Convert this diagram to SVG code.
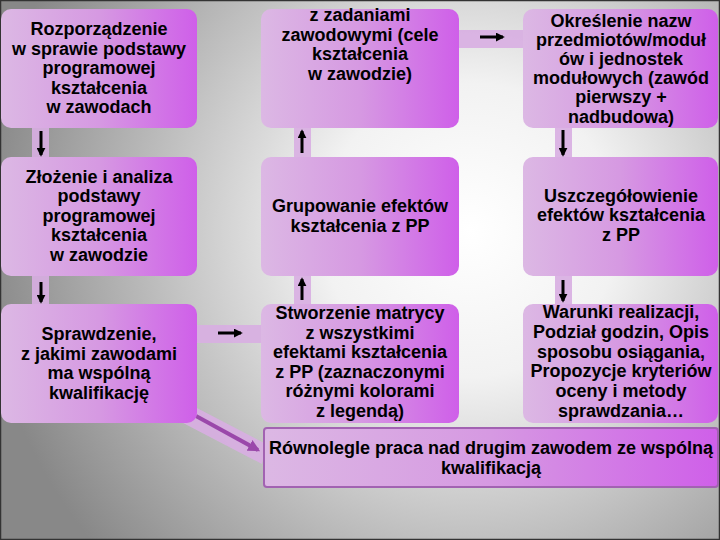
<svg xmlns="http://www.w3.org/2000/svg" width="720" height="540" viewBox="0 0 720 540">
<defs>
<radialGradient id="bg" cx="470" cy="230" r="490" gradientUnits="userSpaceOnUse">
<stop offset="0" stop-color="#ffffff"/>
<stop offset="0.3" stop-color="#f2f2f2"/>
<stop offset="1" stop-color="#888888"/>
</radialGradient>
<linearGradient id="box" x1="0" y1="0" x2="1" y2="0">
<stop offset="0" stop-color="#dcb8e4"/>
<stop offset="0.5" stop-color="#d699e2"/>
<stop offset="1" stop-color="#cf5fe9"/>
</linearGradient>
<marker id="ah" viewBox="0 0 10 10" refX="8" refY="5" markerWidth="3" markerHeight="3" orient="auto" markerUnits="strokeWidth">
<path d="M0,0 L10,5 L0,10 z" fill="#000"/>
</marker>
<marker id="ahp" viewBox="0 0 10 10" refX="8" refY="5" markerWidth="3" markerHeight="3" orient="auto" markerUnits="strokeWidth">
<path d="M0,0 L10,5 L0,10 z" fill="#9a48aa"/>
</marker>
</defs>
<style>
.box{fill:url(#box);}
.wide{fill:url(#box);stroke:#a262b2;stroke-width:2;}
.band{fill:#d8aee2;opacity:0.9;}
.arr{stroke:#000;stroke-width:3;fill:none;marker-end:url(#ah);}
text{font-family:"Liberation Sans",Arial,sans-serif;font-weight:bold;font-size:18px;fill:#000;text-anchor:middle;}
</style>
<rect x="0" y="0" width="720" height="540" fill="url(#bg)"/>
<rect x="0.5" y="0.5" width="719" height="539" fill="none" stroke="#333" stroke-width="1.5"/>

<g id="connectors">
<rect class="band" x="32" y="120" width="17" height="190"/>
<rect class="band" x="294" y="120" width="17" height="190"/>
<rect class="band" x="555" y="120" width="17" height="190"/>
<rect class="band" x="455" y="30" width="72" height="18"/>
<rect class="band" x="192" y="325" width="74" height="18"/>
<polygon class="band" points="120,368 266,444 262,464 116,388"/>
<line class="arr" x1="41" y1="131" x2="41" y2="155"/>
<line class="arr" x1="41" y1="282" x2="41" y2="302"/>
<line class="arr" x1="302" y1="153" x2="302" y2="131"/>
<line class="arr" x1="302" y1="300" x2="302" y2="279"/>
<line class="arr" x1="563" y1="130" x2="563" y2="155"/>
<line class="arr" x1="563" y1="280" x2="563" y2="301"/>
<line class="arr" x1="480" y1="37" x2="503" y2="37"/>
<line class="arr" x1="218" y1="333" x2="241" y2="333"/>
<line x1="196" y1="416" x2="258" y2="450" stroke="#9a48aa" stroke-width="4" marker-end="url(#ahp)"/>
</g>

<g id="n1">
<rect class="box" x="1" y="9" width="196" height="119" rx="10"/>
<text x="99" y="35">Rozporządzenie</text>
<text x="99" y="54.5">w sprawie podstawy</text>
<text x="99" y="74">programowej</text>
<text x="99" y="93.5">kształcenia</text>
<text x="99" y="113">w zawodach</text>
</g>
<g id="n2">
<rect class="box" x="1" y="157" width="196" height="119" rx="10"/>
<text x="99" y="182.5">Złożenie i analiza</text>
<text x="99" y="202">podstawy</text>
<text x="99" y="221.5">programowej</text>
<text x="99" y="241">kształcenia</text>
<text x="99" y="260.5">w zawodzie</text>
</g>
<g id="n3">
<rect class="box" x="1" y="304" width="196" height="119" rx="10"/>
<text x="99" y="340">Sprawdzenie,</text>
<text x="99" y="359.5">z jakimi zawodami</text>
<text x="99" y="379">ma wspólną</text>
<text x="99" y="398.5">kwalifikację</text>
</g>
<g id="n4">
<rect class="box" x="261" y="9" width="198" height="119" rx="10"/>
<text x="360" y="21">z zadaniami</text>
<text x="360" y="40.6">zawodowymi (cele</text>
<text x="360" y="60.2">kształcenia</text>
<text x="360" y="79.8">w zawodzie)</text>
</g>
<g id="n5">
<rect class="box" x="261" y="157" width="198" height="119" rx="10"/>
<text x="360" y="212">Grupowanie efektów</text>
<text x="360" y="231.5">kształcenia z PP</text>
</g>
<g id="n6">
<rect class="box" x="261" y="304" width="198" height="119" rx="10"/>
<text x="360" y="319">Stworzenie matrycy</text>
<text x="360" y="338.6">z wszystkimi</text>
<text x="360" y="358.2">efektami kształcenia</text>
<text x="360" y="377.8">z PP (zaznaczonymi</text>
<text x="360" y="397.4">różnymi kolorami</text>
<text x="360" y="417">z legendą)</text>
</g>
<g id="n7">
<rect class="box" x="523" y="9" width="195" height="119" rx="10"/>
<text x="621" y="26.5">Określenie nazw</text>
<text x="621" y="45.7">przedmiotów/moduł</text>
<text x="621" y="64.9">ów i jednostek</text>
<text x="621" y="84.1">modułowych (zawód</text>
<text x="621" y="103.3">pierwszy +</text>
<text x="621" y="122.5">nadbudowa)</text>
</g>
<g id="n8">
<rect class="box" x="523" y="157" width="195" height="119" rx="10"/>
<text x="621" y="201.5">Uszczegółowienie</text>
<text x="621" y="221">efektów kształcenia</text>
<text x="621" y="240.5">z PP</text>
</g>
<g id="n9">
<rect class="box" x="523" y="304" width="195" height="119" rx="10"/>
<text x="621" y="318">Warunki realizacji,</text>
<text x="621" y="337.8">Podział godzin, Opis</text>
<text x="621" y="357.6">sposobu osiągania,</text>
<text x="621" y="377.4">Propozycje kryteriów</text>
<text x="621" y="397.2">oceny i metody</text>
<text x="621" y="417">sprawdzania…</text>
</g>
<g id="n10">
<rect class="wide" x="264" y="428" width="454" height="59" rx="3"/>
<text x="491" y="454">Równolegle praca nad drugim zawodem ze wspólną</text>
<text x="491" y="473.5">kwalifikacją</text>
</g>
</svg>
